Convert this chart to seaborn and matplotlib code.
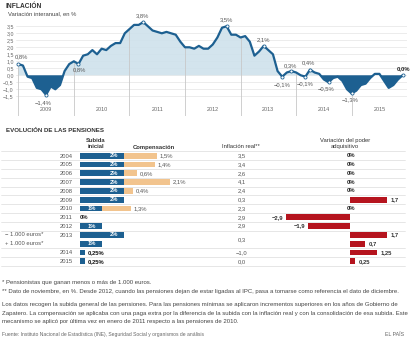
import numpy as np
import pandas as pd
import matplotlib
matplotlib.use("Agg")
import matplotlib.pyplot as plt
import matplotlib.transforms as mtransforms
import seaborn as sns

# ---------------- data ----------------
anios = ["2009", "2010", "2011", "2012", "2013", "2014", "2015"]
ipc = [0.8, 0.7, -0.1, -0.2, -0.9, -1.0, -1.4, -0.8, -1.0, -0.7, 0.3, 0.8,
       1.0, 0.8, 1.4, 1.5, 1.8, 1.5, 1.9, 1.8, 2.1, 2.3, 2.3, 3.0,
       3.3, 3.6, 3.6, 3.8, 3.5, 3.2, 3.1, 3.0, 3.1, 3.0, 2.9, 2.4,
       2.0, 2.0, 1.9, 2.1, 1.9, 1.9, 2.2, 2.7, 3.4, 3.5, 2.9, 2.9,
       2.7, 2.8, 2.4, 1.4, 1.7, 2.1, 1.8, 1.5, 0.3, -0.1, 0.2, 0.3,
       0.2, 0.0, -0.1, 0.4, 0.2, 0.1, -0.3, -0.5, -0.2, -0.1, -0.4, -1.0,
       -1.3, -1.1, -0.7, -0.6, -0.2, 0.1, 0.1, -0.4, -0.9, -0.7, -0.3, 0.0]
y_ticks = [-1.5, -1.0, -0.5, 0.0, 0.5, 1.0, 1.5, 2.0, 2.5, 3.0, 3.5]
etiquetas_idx = [0, 6, 13, 27, 45, 53, 57, 59, 62, 63, 67, 72, 83]

filas = ["2004", "2005", "2006", "2007", "2008", "2009", "2010", "2011", "2012",
         "2013a", "2013b", "2014", "2015"]
filas_texto = ["2004", "2005", "2006", "2007", "2008", "2009", "2010", "2011", "2012",
               "2013", "", "2014", "2015"]
grupos = ["", "", "", "", "", "", "", "", "", "\u2212 1.000 euros*", "+ 1.000 euros*", "", ""]
subida = [2, 2, 2, 2, 2, 2, 1, 0, 1, 2, 1, 0.25, 0.25]
compensacion = [1.5, 1.4, 0.6, 2.1, 0.4, 0, 1.3, 0, 0, 0, 0, 0, 0]
inflacion_real = [3.5, 3.4, 2.6, 4.1, 2.4, 0.3, 2.3, 2.9, 2.9, 0.3, None, -1.0, 0.0]
poder = [0, 0, 0, 0, 0, 1.7, 0, -2.9, -1.9, 1.7, 0.7, 1.25, 0.25]

# ---------------- style ----------------
sns.set_theme(style="white")
plt.rcParams["font.family"] = ["Liberation Sans", "DejaVu Sans"]
plt.rcParams["axes.unicode_minus"] = True

AZUL = "#1d6091"
AZUL_CLARO = "#cfe1eb"
TAN = "#f2c48e"
ROJO = "#b5141e"
GRIS = "#555555"
LINEA = "#dcdcdc"
FS = 4.2

W, H = 414, 343
fig = plt.figure(figsize=(W / 100, H / 100), dpi=100)
fig.patch.set_facecolor("white")
PT = 72 / 100  # points per pixel


def add_ax(x0, y0, x1, y1):
    return fig.add_axes([x0 / W, 1 - y1 / H, (x1 - x0) / W, (y1 - y0) / H])


def ftext(x, y, s, **kw):
    fig.text(x / W, 1 - y / H, s, **kw)


def fmt(v, dec=1):
    s = f"{v:.{dec}f}".replace(".", ",")
    return s.replace("-", "\u2212")


def fmtg(v):
    return f"{v:g}".replace(".", ",").replace("-", "\u2212")


# ---------------- titles ----------------
ftext(6, 6, "INFLACIÓN", fontsize=4.8, fontweight="bold", color="#333333", va="center")
ftext(8.5, 14, "Variación interanual, en %", fontsize=FS, color="#444444", va="center")

# ---------------- inflation chart ----------------
step = 4.63
x0px = 18.3
ax = add_ax(x0px - 0.6 * step, 20, x0px + 84 * step, 116)
idx = np.arange(len(ipc))
vals = np.array(ipc)
ymin, ymax = -2.91, 3.95
ax.set_xlim(-0.6, 84)
ax.set_ylim(ymin, ymax)

ax.fill_between(idx, vals, 0, where=vals >= 0, interpolate=True, color=AZUL_CLARO,
                lw=0, alpha=0.9, zorder=1)
ax.fill_between(idx, vals, 0, where=vals <= 0, interpolate=True, color=AZUL, lw=0, zorder=1)
ene = idx[::12]
ax.vlines(ene, ymin, vals[ene], color="#c8c8c8", lw=0.6, zorder=1.5)
sns.lineplot(x=idx, y=vals, color=AZUL, lw=1.6, ax=ax, zorder=3)
ax.scatter(idx[etiquetas_idx], vals[etiquetas_idx], s=5, facecolor="white",
           edgecolor=AZUL, lw=0.6, zorder=4)

offsets = {0: (2.7, -7), 6: (-2.8, 7.5), 13: (1, 6), 27: (-0.6, -6.5), 45: (0, -6.5),
           53: (0, -6.5), 57: (-0.5, 8), 59: (-1, -5.5), 62: (0, 7.6), 63: (-2, -6.5),
           67: (-2.7, 6.5), 72: (-1, 6.5), 83: (1, -6.5)}
for i in etiquetas_idx:
    dx, dy = offsets[i]
    bold = i == idx[-1]
    ax.annotate(fmt(vals[i]) + "%", (i, vals[i]), xytext=(dx * PT, -dy * PT),
                textcoords="offset points", ha="center", va="center", fontsize=FS,
                color="#222222" if bold else GRIS, fontweight="bold" if bold else "normal",
                zorder=5)

ax.set_yticks(y_ticks)
ax.set_yticklabels([fmt(v) for v in y_ticks], fontsize=3.8, color="#666666")
ax.tick_params(axis="y", length=0, pad=1.2)
ax.set_xticks([])
ax.grid(axis="y", color="#e4e4e4", lw=0.5, zorder=0.5)
ax.set_axisbelow(True)
for s in ax.spines.values():
    s.set_visible(False)
ax.patch.set_alpha(0)
bt = mtransforms.blended_transform_factory(ax.transData, fig.transFigure)
for k, a in enumerate(anios):
    ax.text(6 + 12 * k, 1 - 110 / H, a, transform=bt, ha="center", va="center",
            fontsize=3.9, color="#666666")

# ---------------- pensions table ----------------
ftext(6.5, 130, "EVOLUCIÓN DE LAS PENSIONES", fontsize=4.4, fontweight="bold",
      color="#333333", va="center")
hdr = dict(fontsize=FS, fontweight="bold", color="#333333", ha="center", va="center",
           linespacing=1.2)
ftext(96, 143.5, "Subida\ninicial", **hdr)
ftext(154, 147, "Compensación", **hdr)
ftext(241, 147, "Inflación real**", color="#333333", fontsize=FS, ha="center", va="center")
ftext(345, 143.5, "Variación del poder\nadquisitivo", color="#333333", fontsize=FS,
      ha="center", va="center", linespacing=1.2)

n = len(filas)
row_h = 8.8
top = 151.3
bot = top + n * row_h
df = pd.DataFrame({"fila": filas, "subida": subida,
                   "total": np.array(subida) + np.array(compensacion), "poder": poder})

axp = add_ax(80, top, 190, bot)
sns.barplot(data=df, x="total", y="fila", color=TAN, orient="h", width=0.68,
            linewidth=0, saturation=1, errorbar=None, ax=axp)
sns.barplot(data=df, x="subida", y="fila", color=AZUL, orient="h", width=0.68,
            linewidth=0, saturation=1, errorbar=None, ax=axp)
axp.set_xlim(0, 5)
axp.set_ylim(n - 0.5, -0.5)
axp.set_xlabel("")
axp.set_ylabel("")
axp.set_xticks([])
axp.set_yticks(range(n))
axp.set_yticklabels(filas_texto, fontsize=FS, color=GRIS)
axp.tick_params(axis="y", length=0, pad=5.5)
for s in axp.spines.values():
    s.set_visible(False)
axp.patch.set_alpha(0)

for i, (s, c) in enumerate(zip(subida, compensacion)):
    if s >= 1:
        axp.annotate(f"{s:g}%", (s, i), xytext=(-6 * PT, 0), textcoords="offset points",
                     ha="right", va="center", fontsize=FS, color="white", fontweight="bold")
    elif s == 0:
        axp.annotate("0%", (0, i), xytext=(0, 0), textcoords="offset points",
                     ha="left", va="center", fontsize=FS, color="#222222", fontweight="bold")
    else:
        axp.annotate(fmtg(s) + "%", (s, i), xytext=(2 * PT, 0), textcoords="offset points",
                     ha="left", va="center", fontsize=FS, color="#111111", fontweight="bold")
    if c > 0:
        axp.annotate(fmtg(c) + "%", (s + c, i), xytext=(3 * PT, 0),
                     textcoords="offset points", ha="left", va="center", fontsize=FS,
                     color=GRIS)

# group labels, separators and inflation values
bty = mtransforms.blended_transform_factory(fig.transFigure, axp.transData)
for i, g in enumerate(grupos):
    if g:
        axp.text(5 / W, i, g, transform=bty, ha="left", va="center", fontsize=FS, color=GRIS)
seps = [-0.5] + [i + 0.5 for i in range(n) if filas[i] != "2013a"]
for yv in seps:
    axp.plot([1 / W, 405 / W], [yv, yv], transform=bty, color=LINEA, lw=0.5,
             clip_on=False, zorder=0)
for i, v in enumerate(inflacion_real):
    if v is None:
        continue
    yy = i + 0.5 if (i + 1 < n and inflacion_real[i + 1] is None) else i
    axp.text(242 / W, yy, fmt(v), transform=bty, ha="center", va="center", fontsize=FS,
             color=GRIS)

# purchasing power
axr = add_ax(350 - 3.2 * 22, top, 350 + 2.5 * 22, bot)
sns.barplot(data=df, x="poder", y="fila", color=ROJO, orient="h", width=0.68,
            linewidth=0, saturation=1, errorbar=None, ax=axr)
axr.set_xlim(-3.2, 2.5)
axr.set_ylim(n - 0.5, -0.5)
axr.set_xlabel("")
axr.set_ylabel("")
axr.set_xticks([])
axr.set_yticks([])
for s in axr.spines.values():
    s.set_visible(False)
axr.patch.set_alpha(0)
for i, v in enumerate(poder):
    if v == 0:
        axr.annotate("0%", (0, i), xytext=(1 * PT, 0), textcoords="offset points",
                     ha="center", va="center", fontsize=FS, color="#222222", fontweight="bold")
    elif v > 0:
        axr.annotate(fmtg(v), (v, i), xytext=(3 * PT, 0), textcoords="offset points",
                     ha="left", va="center", fontsize=FS, color="#333333", fontweight="bold")
    else:
        axr.annotate(fmtg(v), (v, i), xytext=(-3 * PT, 0), textcoords="offset points",
                     ha="right", va="center", fontsize=FS, color="#333333", fontweight="bold")

# ---------------- footnotes ----------------
nota = dict(fontsize=4.35, color="#444444", va="center", ha="left")
ftext(2.5, 282.7, "* Pensionistas que ganan menos o más de 1.000 euros.", **nota)
ftext(2.5, 291.3, "** Dato de noviembre, en %. Desde 2012, cuando las pensiones dejan de estar "
      "ligadas al IPC, pasa a tomarse como referencia el dato de diciembre.", **nota)
ftext(2.5, 304.3, "Los datos recogen la subida general de las pensiones. Para las pensiones "
      "mínimas se aplicaron incrementos superiores en los años de Gobierno de", **nota)
ftext(2.5, 313, "Zapatero. La compensación se aplicaba con una paga extra por la diferencia de "
      "la subida con la inflación real y con la consolidación de esa subida. Este", **nota)
ftext(2.5, 321.7, "mecanismo se aplicó por última vez en enero de 2011 respecto a las pensiones "
      "de 2010.", **nota)
ftext(2.5, 334.3, "Fuente: Instituto Nacional de Estadística (INE), Seguridad Social y "
      "organismos de análisis", fontsize=3.6, color="#666666", va="center", ha="left")
ftext(404, 334.3, "EL PAÍS", fontsize=3.8, color="#666666", va="center", ha="right")

fig.savefig("out.png", dpi=100, facecolor="white")
